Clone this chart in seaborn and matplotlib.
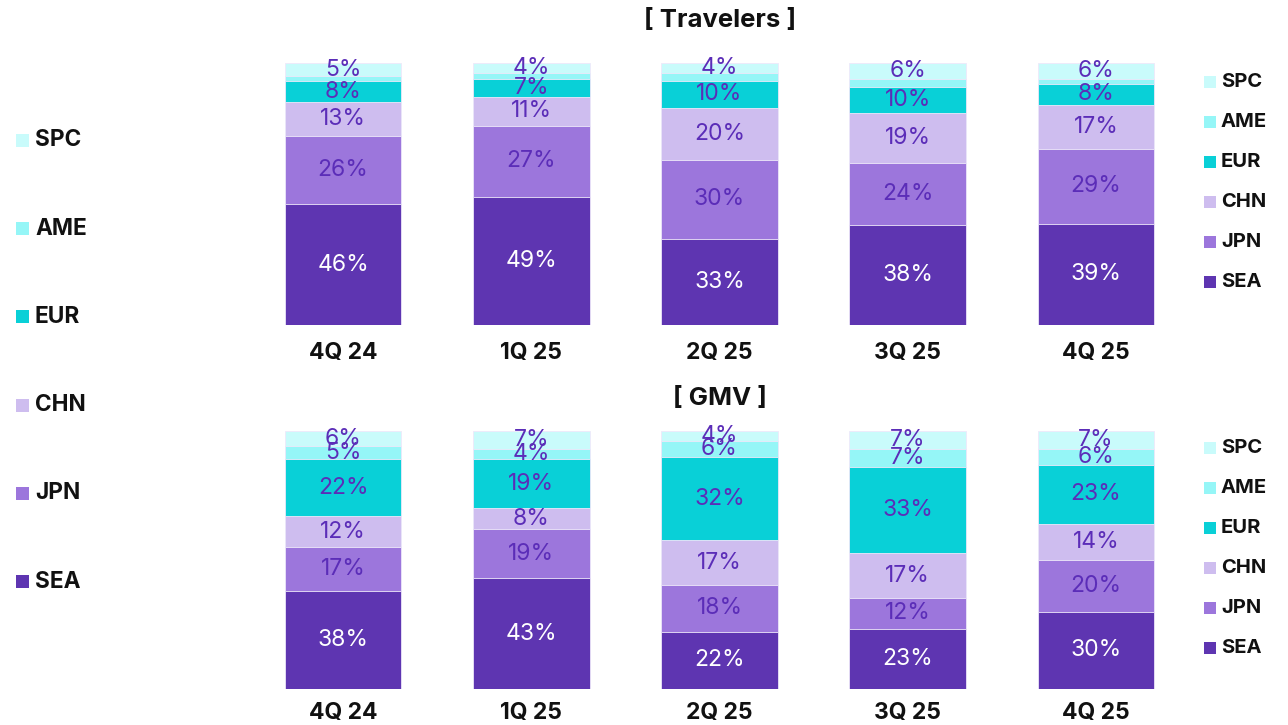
import matplotlib
matplotlib.use("Agg")
import matplotlib.pyplot as plt
import seaborn as sns
import pandas as pd
import numpy as np

sns.set_theme(style="white")
plt.rcParams["font.family"] = ["Inter", "DejaVu Sans"]

quarters = ["4Q 24", "1Q 25", "2Q 25", "3Q 25", "4Q 25"]
regions = ["SEA", "JPN", "CHN", "EUR", "AME", "SPC"]

# Travelers share by region (%)
trav_sea = [46, 49, 33, 38, 39]
trav_jpn = [26, 27, 30, 24, 29]
trav_chn = [13, 11, 20, 19, 17]
trav_eur = [8, 7, 10, 10, 8]
trav_ame = [2, 2, 3, 3, 2]
trav_spc = [5, 4, 4, 6, 6]

# GMV share by region (%)
gmv_sea = [38, 43, 22, 23, 30]
gmv_jpn = [17, 19, 18, 12, 20]
gmv_chn = [12, 8, 17, 17, 14]
gmv_eur = [22, 19, 32, 33, 23]
gmv_ame = [5, 4, 6, 7, 6]
gmv_spc = [6, 7, 4, 7, 7]

colors = {
    "SEA": "#5E35B1",
    "JPN": "#9C76DC",
    "CHN": "#CEBDEF",
    "EUR": "#09D0D7",
    "AME": "#95F6F7",
    "SPC": "#C9FBFB",
}
label_purple = "#5B2DB8"

W, H = 1288, 725
fig = plt.figure(figsize=(W / 100, H / 100), dpi=100)


def px_axes(left, top, right, bottom):
    return fig.add_axes([left / W, 1 - bottom / H, (right - left) / W, (bottom - top) / H])


def stacked(ax, series, show_small, pad):
    df = pd.DataFrame(series, index=quarters)[regions]
    # 100% stacked: each quarter's bar spans its full total
    share = df.div(df.sum(axis=1), axis=0) * 100
    cum = share.cumsum(axis=1)
    # Draw cumulative totals from the top layer down so each region shows as a band
    for reg in reversed(regions):
        sns.barplot(x=quarters, y=cum[reg].values, color=colors[reg], width=0.62,
                    saturation=1, edgecolor="#EEE8FA", linewidth=0.6, ax=ax)
    for i, q in enumerate(quarters):
        base = 0
        for reg in regions:
            v = df.loc[q, reg]
            h = share.loc[q, reg]
            if v >= show_small:
                ax.text(i, base + h / 2, f"{v}%", ha="center", va="center",
                        fontsize=16.5, color="white" if reg == "SEA" else label_purple)
            base += h
    ax.set_xlim(-0.5, 4.5)
    ax.set_ylim(0, 100)
    ax.set_yticks([])
    ax.set_ylabel("")
    ax.tick_params(axis="x", length=0, pad=pad)
    for lab in ax.get_xticklabels():
        lab.set_fontsize(16.5)
        lab.set_fontweight("bold")
        lab.set_color("#111111")
    sns.despine(ax=ax, left=True, bottom=True)


trav = dict(SEA=trav_sea, JPN=trav_jpn, CHN=trav_chn, EUR=trav_eur, AME=trav_ame, SPC=trav_spc)
gmv = dict(SEA=gmv_sea, JPN=gmv_jpn, CHN=gmv_chn, EUR=gmv_eur, AME=gmv_ame, SPC=gmv_spc)

ax1 = px_axes(249, 63, 1190, 325)
stacked(ax1, trav, show_small=4, pad=12)
ax2 = px_axes(249, 431, 1190, 689)
stacked(ax2, gmv, show_small=1, pad=9)

fig.text(720 / W, 1 - 21 / H, "[ Travelers ]", ha="center", va="center",
         fontsize=18.5, fontweight="bold", color="#111111")
fig.text(720 / W, 1 - 399 / H, "[ GMV ]", ha="center", va="center",
         fontsize=18.5, fontweight="bold", color="#111111")


def legend_column(x_px, y_top_px, step_px, sq, gap, fs):
    for k, r in enumerate(reversed(regions)):
        y = 1 - (y_top_px + k * step_px) / H
        fig.patches.append(plt.Rectangle((x_px / W, y - sq / 2 / H), sq / W, sq / H,
                                         transform=fig.transFigure, facecolor=colors[r],
                                         edgecolor="none"))
        fig.text((x_px + sq + gap) / W, y, r, ha="left", va="center", fontsize=fs,
                 fontweight="bold", color="#111111")


legend_column(1204, 82, 40, 12, 5, 14.5)
legend_column(1204, 448, 40, 12, 5, 14.5)
legend_column(16, 140.5, 88.2, 13, 6, 16.3)

fig.savefig("out.png", dpi=100)
